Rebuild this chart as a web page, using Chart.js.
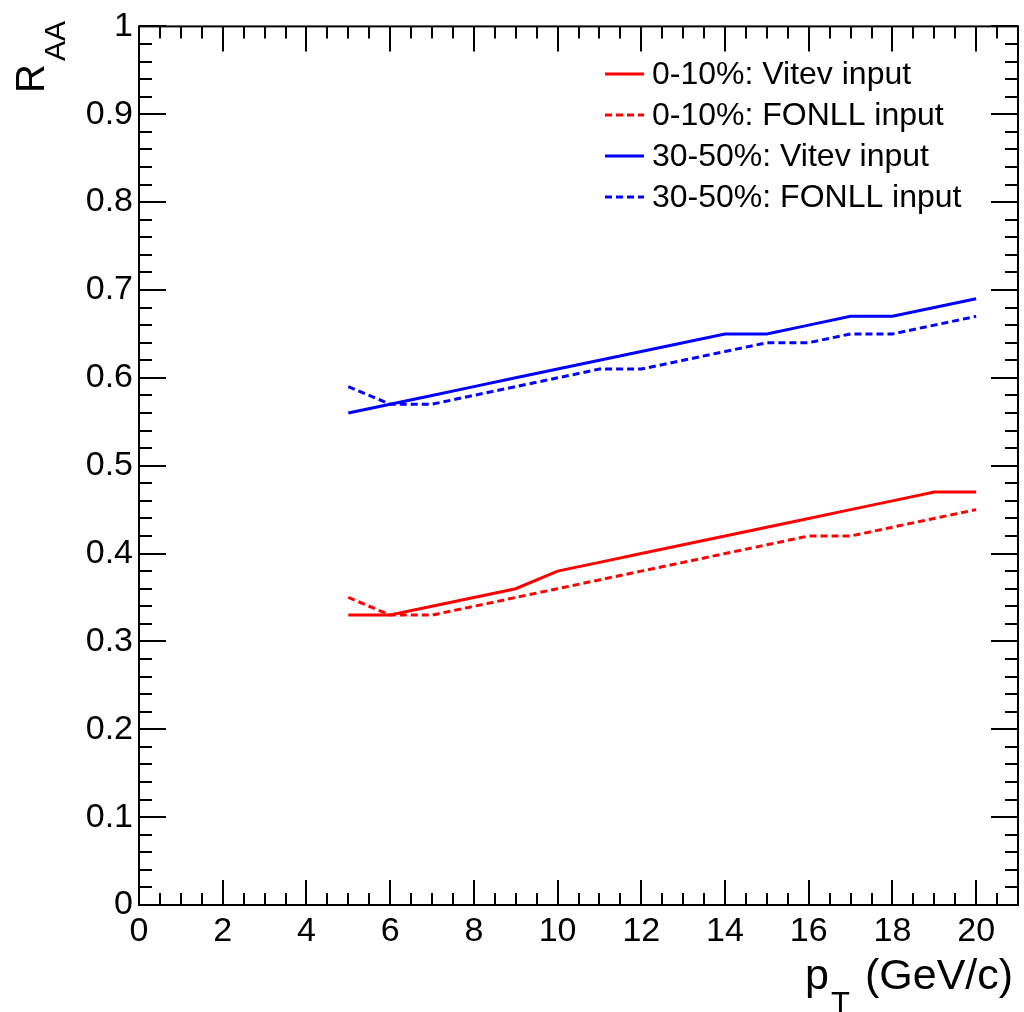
<!DOCTYPE html>
<html>
<head>
<meta charset="utf-8">
<script src="https://cdn.jsdelivr.net/npm/chart.js@4/dist/chart.umd.min.js"></script>
<style>
  html, body { margin: 0; padding: 0; background: #ffffff; }
  #wrap { width: 1024px; height: 1012px; }
</style>
</head>
<body>
<div id="wrap"><canvas id="c" width="1024" height="1012"></canvas></div>
<script>
// ---- data ----
const pt = [5, 6, 7, 8, 9, 10, 11, 12, 13, 14, 15, 16, 17, 18, 19, 20];
const central_vitev = [0.33, 0.33, 0.34, 0.35, 0.36, 0.38, 0.39, 0.40, 0.41, 0.42, 0.43, 0.44, 0.45, 0.46, 0.47, 0.47];
const central_fonll = [0.35, 0.33, 0.33, 0.34, 0.35, 0.36, 0.37, 0.38, 0.39, 0.40, 0.41, 0.42, 0.42, 0.43, 0.44, 0.45];
const semi_vitev    = [0.56, 0.57, 0.58, 0.59, 0.60, 0.61, 0.62, 0.63, 0.64, 0.65, 0.65, 0.66, 0.67, 0.67, 0.68, 0.69];
const semi_fonll    = [0.59, 0.57, 0.57, 0.58, 0.59, 0.60, 0.61, 0.61, 0.62, 0.63, 0.64, 0.64, 0.65, 0.65, 0.66, 0.67];
const seriesLabels = ['0-10%: Vitev input', '0-10%: FONLL input', '30-50%: Vitev input', '30-50%: FONLL input'];
const xTickLabels = ['0', '2', '4', '6', '8', '10', '12', '14', '16', '18', '20'];
const yTickLabels = ['0', '0.1', '0.2', '0.3', '0.4', '0.5', '0.6', '0.7', '0.8', '0.9', '1'];

const FONT = '"Liberation Sans", Arial, Helvetica, sans-serif';

function toXY(xs, ys) { return xs.map((x, i) => ({ x: x, y: ys[i] })); }

const rootStyle = {
  id: 'rootStyle',
  afterDraw(chart) {
    const ctx = chart.ctx;
    const xs = chart.scales.x, ys = chart.scales.y;
    const L = chart.chartArea.left, R = chart.chartArea.right;
    const T = chart.chartArea.top, B = chart.chartArea.bottom;
    ctx.save();
    ctx.strokeStyle = '#000';
    ctx.lineWidth = 2;
    ctx.strokeRect(L, T, R - L, B - T);
    ctx.lineWidth = 2;
    ctx.beginPath();
    // x ticks (bottom & top)
    for (let k = 0; k <= 42; k++) {
      const v = k * 0.5;
      const px = Math.round(xs.getPixelForValue(v));
      const len = (k % 4 === 0) ? 25 : 12;
      ctx.moveTo(px, B); ctx.lineTo(px, B - len);
      ctx.moveTo(px, T); ctx.lineTo(px, T + len);
    }
    // y ticks (left & right)
    for (let k = 0; k <= 50; k++) {
      const v = k * 0.02;
      const py = Math.round(ys.getPixelForValue(v));
      const len = (k % 5 === 0) ? 27 : 13;
      ctx.moveTo(L, py); ctx.lineTo(L + len, py);
      ctx.moveTo(R, py); ctx.lineTo(R - len, py);
    }
    ctx.stroke();

    // axis titles
    ctx.fillStyle = '#000';
    ctx.textBaseline = 'alphabetic';
    ctx.textAlign = 'left';
    ctx.font = '43px ' + FONT;
    ctx.fillText('p', 805, 989);
    ctx.font = '31px ' + FONT;
    ctx.fillText('T', 831, 1014);
    ctx.font = '43px ' + FONT;
    ctx.fillText('(GeV/c)', 865, 989);

    ctx.save();
    ctx.translate(44, 93);
    ctx.rotate(-Math.PI / 2);
    ctx.font = '40px ' + FONT;
    ctx.fillText('R', 0, 0);
    ctx.font = '30px ' + FONT;
    ctx.fillText('AA', 32, 21);
    ctx.restore();

    // legend
    const rows = [74, 115, 156, 197];
    chart.data.datasets.forEach((ds, i) => {
      const y = rows[i];
      ctx.strokeStyle = ds.borderColor;
      ctx.lineWidth = 3;
      ctx.setLineDash(ds.borderDash || []);
      ctx.beginPath();
      ctx.moveTo(605, y); ctx.lineTo(644, y);
      ctx.stroke();
      ctx.setLineDash([]);
      ctx.fillStyle = '#000';
      ctx.font = '32px ' + FONT;
      ctx.textBaseline = 'middle';
      ctx.fillText(ds.label, 652, y + 1);
    });
    ctx.restore();
  }
};

new Chart(document.getElementById('c'), {
  type: 'line',
  data: {
    datasets: [
      { label: seriesLabels[0], data: toXY(pt, central_vitev), borderColor: '#ff0000', borderWidth: 3, borderDash: [] },
      { label: seriesLabels[1], data: toXY(pt, central_fonll), borderColor: '#ff0000', borderWidth: 3, borderDash: [7, 4] },
      { label: seriesLabels[2], data: toXY(pt, semi_vitev), borderColor: '#0000ff', borderWidth: 3, borderDash: [] },
      { label: seriesLabels[3], data: toXY(pt, semi_fonll), borderColor: '#0000ff', borderWidth: 3, borderDash: [7, 4] }
    ]
  },
  options: {
    responsive: false,
    animation: false,
    devicePixelRatio: 1,
    layout: { padding: { top: 20, right: 6, left: 0, bottom: 0 } },
    elements: { point: { radius: 0 }, line: { tension: 0, fill: false } },
    plugins: { legend: { display: false }, tooltip: { enabled: false } },
    scales: {
      x: {
        type: 'linear', min: 0, max: 21,
        grid: { display: false, drawTicks: false },
        border: { display: false },
        ticks: {
          stepSize: 2, includeBounds: false, padding: 6, maxRotation: 0, autoSkip: false,
          color: '#000', font: { family: FONT, size: 34 },
          callback: (v, i) => xTickLabels[i]
        },
        afterFit: (s) => { s.height = 107; }
      },
      y: {
        type: 'linear', min: 0, max: 1,
        grid: { display: false, drawTicks: false },
        border: { display: false },
        ticks: {
          stepSize: 0.1, padding: 6, autoSkip: false,
          color: '#000', font: { family: FONT, size: 34 },
          callback: (v, i) => yTickLabels[i]
        },
        afterFit: (s) => { s.width = 139; }
      }
    }
  },
  plugins: [rootStyle]
});
</script>
</body>
</html>
